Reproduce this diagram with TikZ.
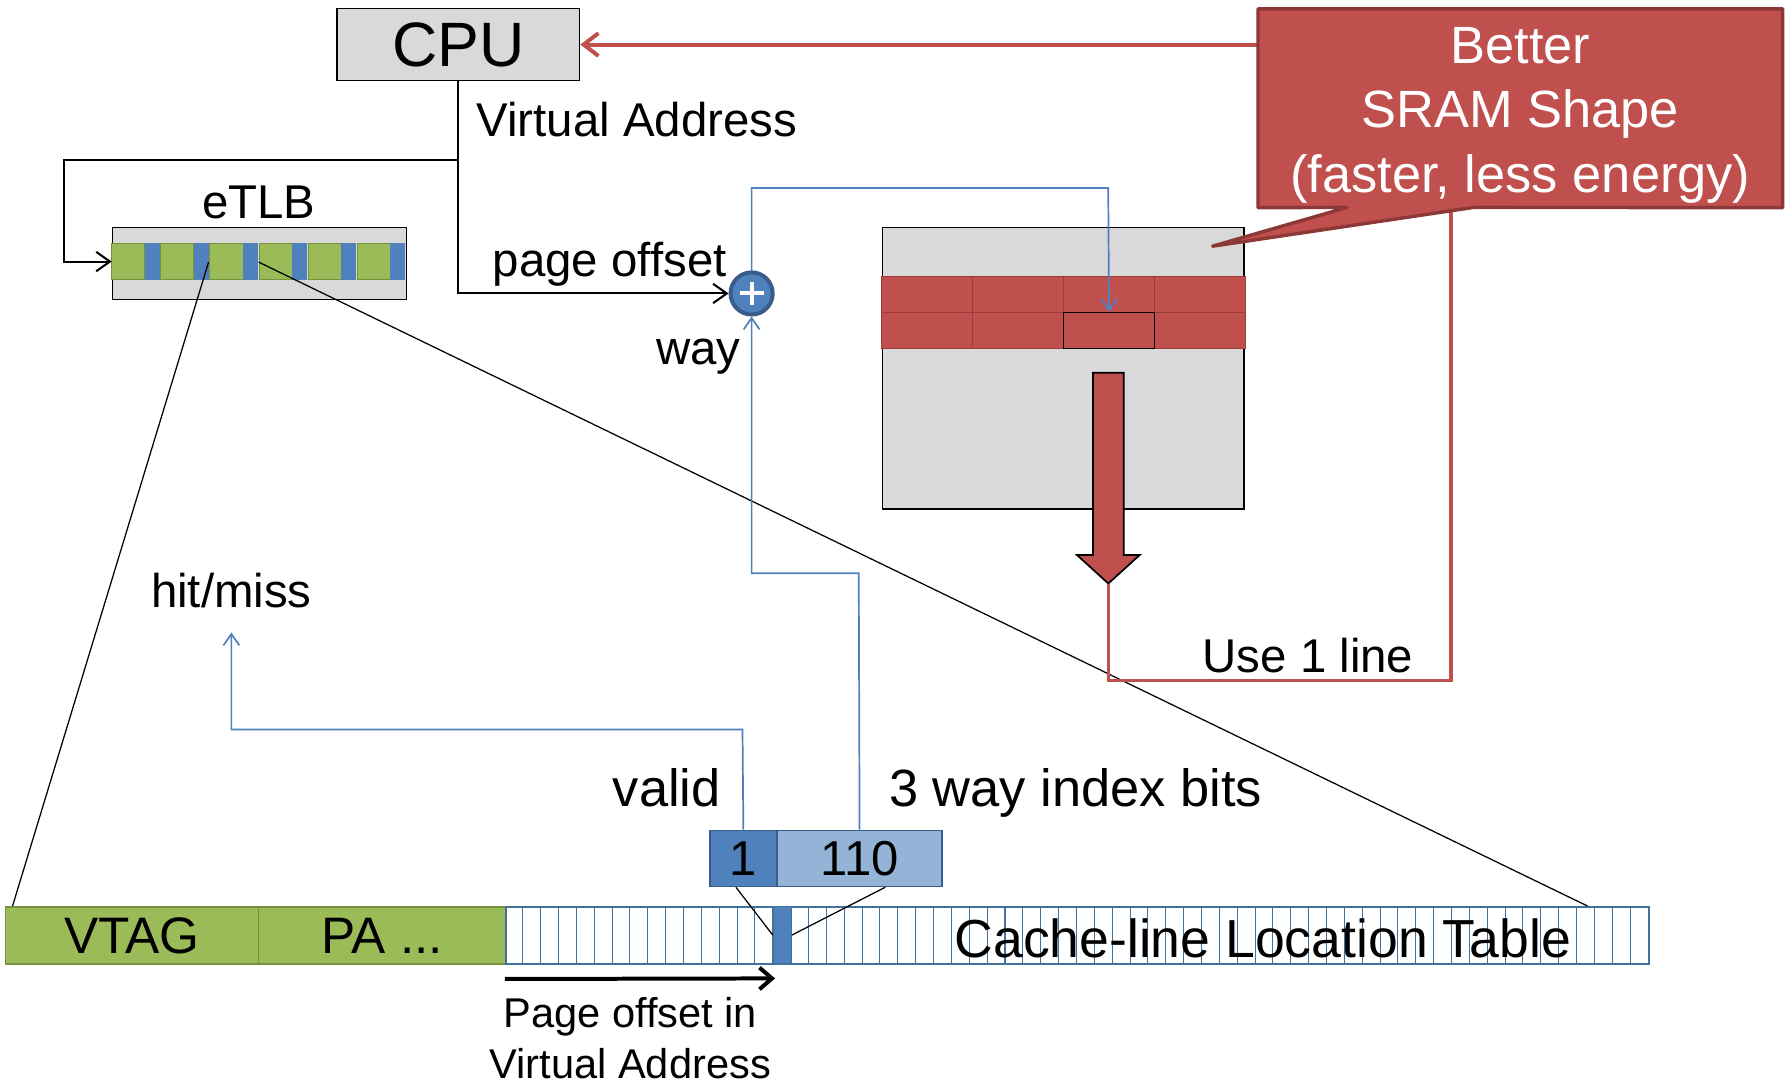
\documentclass[tikz,border=0pt]{standalone}
\usepackage{fontspec}
\setmainfont{Liberation Sans}
\usetikzlibrary{arrows.meta}

\definecolor{cred}{HTML}{C0504D}
\definecolor{cdarkred}{HTML}{8C3836}
\definecolor{cellred}{HTML}{9E3B39}
\definecolor{cgray}{HTML}{D9D9D9}
\definecolor{cblue}{HTML}{4F81BD}
\definecolor{cdarkblue}{HTML}{385D8A}
\definecolor{clightblue}{HTML}{95B3D7}
\definecolor{cgreen}{HTML}{9BBB59}
\definecolor{cdarkgreen}{HTML}{76923C}
\definecolor{ctableblue}{HTML}{41719C}

\begin{document}
\begin{tikzpicture}[x=1pt,y=-1pt,
  txt/.style={inner sep=0pt, font=\fontsize{41.6}{50}\selectfont},
  bigtxt/.style={inner sep=0pt, font=\fontsize{46}{55}\selectfont},
  smalltxt/.style={inner sep=0pt, font=\fontsize{36.5}{44}\selectfont},
  graybox/.style={draw=black, fill=cgray, line width=1.2pt, inner sep=0pt, anchor=north west},
  blk/.style={draw=black, line width=1.8pt, line join=miter},
  blkarrow/.style={blk, -{Straight Barb[length=12pt,width=17pt]}},
  bline/.style={draw=cblue, line width=1.5pt},
  barrow/.style={bline, -{Straight Barb[length=10pt,width=14pt]}},
  rline/.style={draw=cred, line width=3pt},
  fine/.style={draw=black, line width=1.1pt},
  sramcell/.style={fill=cred, draw=cellred, line width=1pt, minimum width=79.75pt,
    minimum height=31.5pt, inner sep=0pt, anchor=north west},
  field/.style={line width=1.5pt, inner sep=0pt, anchor=north west, minimum height=50pt,
    font=\fontsize{45}{54}\selectfont},
  bitbox/.style={draw=cdarkblue, line width=1.5pt, inner sep=0pt, anchor=north west,
    minimum height=49pt, font=\fontsize{43}{52}\selectfont}]

\useasboundingbox (0,0) rectangle (1568,951);

% ---------- nodes ----------
\node[graybox, minimum width=213pt, minimum height=63pt,
      font=\fontsize{55}{66}\selectfont] (cpu) at (295,7) {CPU};

\node[graybox, minimum width=258pt, minimum height=63pt] (etlb) at (98,199) {};
\node[inner sep=0pt, minimum width=258pt, minimum height=32pt, anchor=west] (strip) at (98,229.5) {};
\foreach \i in {0,...,5} {
  \filldraw[fill=cgreen, draw=cdarkgreen, line width=0.8pt] (98+43.1*\i,213.5) rectangle +(29,32);
  \fill[cblue] (127+43.1*\i,213.5) rectangle +(13,32);
}

\node[circle, fill=cblue, draw=cdarkblue, line width=3.5pt, minimum size=37pt, inner sep=0pt]
  (plus) at (659.5,257.5) {};

\node[graybox, minimum width=317pt, minimum height=247pt] (sram) at (774,199) {};
\foreach \r in {0,1} \foreach \c in {0,...,3}
  \node[sramcell] (cell-\r-\c) at (773+\c*79.75, 242+\r*31.5) {};
\node[sramcell, draw=black, line width=1.5pt] (sel) at (932.5,273.5) {};

\node[draw=none, minimum width=460pt, minimum height=174pt, inner sep=0pt] (callout) at (1334,95) {};

\node[bitbox, fill=cblue, minimum width=59pt] (vbit) at (622,728) {1};
\node[bitbox, fill=clightblue, minimum width=145pt] (ibits) at (681,728) {110};

\node[field, fill=cgreen, draw=cdarkgreen, minimum width=222pt] (vtag) at (4,795) {VTAG};
\node[field, fill=cgreen, draw=cdarkgreen, minimum width=217pt] (pa) at (226,795) {PA ...};
\node[field, fill=white, draw=ctableblue, minimum width=1003pt] (clt) at (443,795) {};
\foreach \i in {1,...,63}
  \draw[ctableblue, line width=0.9pt] (443+\i*15.672,795) -- +(0,50);
\node[fill=cblue, draw=ctableblue, line width=1pt, inner sep=0pt, anchor=north west,
      minimum width=15.67pt, minimum height=50pt] (hot) at (443+15*15.672,795) {};

% ---------- eTLB entry expanded into the table row ----------
\coordinate (entA) at (183,230);
\coordinate (entB) at (227,230);
\draw[fine] (entA) -- (11,795);
\draw[fine] (entB) -- (1393,795);

% ---------- virtual address paths ----------
\coordinate (vsplit) at (401.5,140);
\coordinate (lbend) at (56,140);
\draw[blkarrow] (cpu.south) -- (cpu.south |- plus.west) -- (plus.west);
\draw[blkarrow] (vsplit) -- (lbend) -- (lbend |- strip.west) -- (strip.west);

% plus sign
\draw[white, line width=3.5pt] ([xshift=-10.5pt]plus.center) -- ([xshift=10.5pt]plus.center);
\draw[white, line width=3.5pt] ([yshift=-10.5pt]plus.center) -- ([yshift=10.5pt]plus.center);

% ---------- blue signal paths ----------
\coordinate (topbend) at (972.4,165);
\draw[barrow] (plus.north) -- (plus.north |- topbend) -- (topbend) -- (sel.north);

\coordinate (wbend) at (753.5,503);
\draw[barrow] (ibits.north) -- (wbend) -- (wbend -| plus.south) -- (plus.south);

\coordinate (hbend) at (651.5,640);
\coordinate (hmtip) at (203,555);
\draw[barrow] (vbit.north) -- (hbend) -- (hbend -| hmtip) -- (hmtip);

% ---------- selected line read out ----------
\coordinate (bigtip) at (972.5,512);
\filldraw[fill=cred, draw=black, line width=1.5pt, line join=miter]
  (959,327) -- (986,327) -- (986,487) -- (1000,487) -- (bigtip) -- (945,487) -- (959,487) -- cycle;

\coordinate (uleft) at (972.5,597);
\coordinate (uright) at (1273,597);
\draw[rline] (bigtip) -- (uleft) -- (uright) -- (uright |- callout.south);
\draw[rline, line width=3.5pt, -{Straight Barb[length=13pt,width=20pt]}] (callout.west |- cpu.east) -- (cpu.east);

% callout with pointer
\filldraw[fill=cred, draw=cdarkred, line width=3pt, line join=round]
  (callout.north west) -- (callout.north east) -- (callout.south east) --
  (1293,182) -- (1064,216) -- (1182,182) -- (callout.south west) -- cycle;
\node[inner sep=0pt, align=center, text=white, font=\fontsize{46}{56.5}\selectfont]
  (calltext) at (1334,101) {Better\\SRAM Shape\\(faster, less energy)};

% ---------- bits to table entry ----------
\draw[fine] ([xshift=-6.5pt]vbit.south) -- (hot.west);
\draw[fine] ([xshift=22.5pt]ibits.south) -- (hot.east);

\draw[line width=3.5pt, -{Straight Barb[length=11pt,width=19pt]}]
  ([yshift=-12.5pt]clt.south west) -- ([yshift=-12.5pt,xshift=2pt]hot.south west);

% ---------- labels ----------
\node[txt, anchor=base west] (valab) at (418,120) {Virtual Address};
\node[txt, anchor=base] (etlblab) at (227,192) {eTLB};
\node[txt, anchor=base] (polab) at (535,243) {page offset};
\node[txt, anchor=base east] (waylab) at (650,320) {way};
\node[txt, anchor=base] (hitmiss) at (203,533) {hit/miss};
\node[bigtxt, anchor=base] (validlab) at (585,708) {valid};
\node[bigtxt, anchor=base west] (idxlab) at (780,708) {3 way index bits};
\node[txt, anchor=base west] (uselab) at (1055,590) {Use 1 line};
\node[inner sep=0pt, font=\fontsize{47}{56}\selectfont, anchor=base] (cltlab) at (1108,840) {Cache-line Location Table};
\node[smalltxt, anchor=base] (polab2) at (553,902) {Page offset in};
\node[smalltxt, anchor=base] (valab2) at (553,946) {Virtual Address};

\end{tikzpicture}
\end{document}
